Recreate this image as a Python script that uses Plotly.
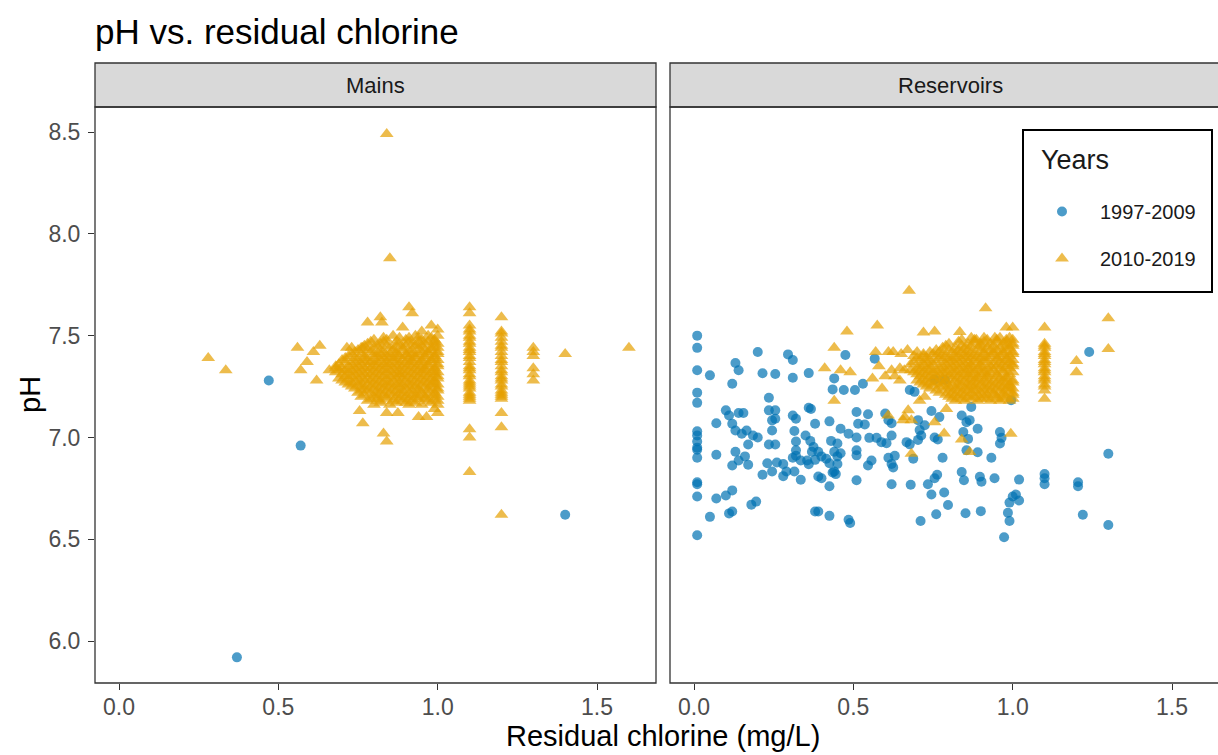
import plotly.graph_objects as go

W, H = 1218, 755

# ---------------- data ----------------
# Mains, 1997-2009
mains_1997_x = [0.47, 0.57, 0.37, 1.40]
mains_1997_y = [7.28, 6.96, 5.92, 6.62]

# Mains, 2010-2019 : isolated points
mains_2010_pts = [
    (0.28, 7.39), (0.335, 7.33), (0.84, 8.49), (0.85, 7.88), (1.60, 7.44), (1.40, 7.41),
    (0.56, 7.44), (0.63, 7.45), (0.61, 7.42), (0.59, 7.37), (0.57, 7.33), (0.62, 7.28),
    (0.66, 7.33), (0.68, 7.34), (0.715, 7.44), (0.73, 7.44), (0.765, 7.44),
    (0.78, 7.565), (0.82, 7.59), (0.825, 7.565), (0.91, 7.64), (0.92, 7.61), (0.89, 7.54),
    (1.00, 7.53), (0.95, 7.52), (0.98, 7.55),
    (0.755, 7.13), (0.765, 7.07), (0.83, 7.02), (0.84, 6.98), (0.84, 7.12), (0.875, 7.12),
    (0.94, 7.10), (0.965, 7.10), (1.00, 7.12), (0.99, 7.14),
]
# Mains, 2010-2019 : dense cluster, pH value -> chlorine values
mains_2010_rows = {
    7.50: [0.86, 0.93, 0.97, 1.00],
    7.49: [0.83, 0.88, 0.91, 0.94, 0.98],
    7.48: [0.80, 0.84, 0.90, 0.95, 0.99],
    7.47: [0.79, 0.83, 0.87, 0.91, 0.94, 0.97, 0.99],
    7.46: [0.78, 0.82, 0.88, 0.92, 0.96, 1.00],
    7.45: [0.77, 0.81, 0.84, 0.87, 0.90, 0.93, 0.95, 0.99],
    7.44: [0.76, 0.80, 0.85, 0.89, 0.94, 0.98, 1.00],
    7.43: [0.75, 0.78, 0.82, 0.86, 0.89, 0.92, 0.96, 0.98],
    7.42: [0.74, 0.79, 0.83, 0.87, 0.91, 0.95, 0.97, 1.00],
    7.41: [0.73, 0.76, 0.80, 0.82, 0.85, 0.87, 0.90, 0.92, 0.94, 0.97, 1.00],
    7.40: [0.72, 0.77, 0.81, 0.84, 0.88, 0.90, 0.93, 0.96, 0.99],
    7.39: [0.71, 0.74, 0.77, 0.80, 0.83, 0.85, 0.87, 0.91, 0.93, 0.96, 0.99],
    7.38: [0.70, 0.75, 0.78, 0.82, 0.86, 0.89, 0.92, 0.95, 0.98, 1.00],
    7.37: [0.71, 0.74, 0.77, 0.79, 0.81, 0.84, 0.87, 0.90, 0.92, 0.95, 0.98],
    7.36: [0.69, 0.73, 0.76, 0.80, 0.83, 0.85, 0.88, 0.91, 0.94, 0.97, 1.00],
    7.35: [0.68, 0.72, 0.75, 0.78, 0.81, 0.84, 0.87, 0.89, 0.92, 0.95, 0.97, 1.00],
    7.34: [0.70, 0.74, 0.77, 0.79, 0.82, 0.86, 0.90, 0.93, 0.96, 0.99],
    7.33: [0.69, 0.71, 0.73, 0.76, 0.80, 0.83, 0.85, 0.88, 0.91, 0.94, 0.96, 0.99],
    7.32: [0.68, 0.72, 0.75, 0.78, 0.81, 0.84, 0.87, 0.89, 0.92, 0.95, 0.98, 1.00],
    7.31: [0.70, 0.74, 0.77, 0.79, 0.82, 0.86, 0.88, 0.90, 0.93, 0.96, 0.99],
    7.30: [0.71, 0.73, 0.76, 0.80, 0.83, 0.85, 0.88, 0.91, 0.94, 0.97, 1.00],
    7.29: [0.69, 0.72, 0.75, 0.78, 0.81, 0.84, 0.87, 0.89, 0.92, 0.95, 0.98, 1.00],
    7.28: [0.70, 0.74, 0.77, 0.79, 0.82, 0.86, 0.90, 0.93, 0.96, 0.99],
    7.27: [0.71, 0.73, 0.76, 0.80, 0.83, 0.85, 0.88, 0.91, 0.94, 0.97, 0.99],
    7.26: [0.72, 0.75, 0.78, 0.81, 0.84, 0.87, 0.89, 0.92, 0.95, 0.98, 1.00],
    7.25: [0.73, 0.76, 0.79, 0.82, 0.85, 0.88, 0.91, 0.93, 0.96, 0.99],
    7.24: [0.74, 0.77, 0.80, 0.83, 0.86, 0.90, 0.94, 0.97, 1.00],
    7.23: [0.76, 0.78, 0.81, 0.84, 0.87, 0.89, 0.92, 0.94, 0.97, 1.00],
    7.22: [0.75, 0.79, 0.82, 0.85, 0.88, 0.91, 0.95, 0.99],
    7.21: [0.77, 0.81, 0.83, 0.86, 0.89, 0.92, 0.94, 0.97, 0.99],
    7.20: [0.76, 0.80, 0.84, 0.87, 0.90, 0.93, 0.96, 1.00],
    7.19: [0.79, 0.81, 0.84, 0.88, 0.91, 0.94, 0.96, 0.99],
    7.18: [0.78, 0.82, 0.86, 0.89, 0.92, 0.97, 1.00],
    7.17: [0.82, 0.87, 0.90, 0.93, 0.98],
    7.16: [0.80, 0.85, 0.91, 0.95, 1.00],
}
# Mains, 2010-2019 : chlorine value -> pH values (vertical stacks)
mains_2010_cols = {
    1.10: [7.64, 7.61, 7.55, 7.53, 7.52, 7.50, 7.49, 7.47, 7.46, 7.44, 7.43, 7.42, 7.40,
           7.39, 7.37, 7.35, 7.34, 7.33, 7.31, 7.30, 7.28, 7.27, 7.26, 7.25, 7.24, 7.22,
           7.21, 7.20, 7.19, 7.18, 7.04, 7.00, 6.83],
    1.20: [7.59, 7.52, 7.51, 7.49, 7.47, 7.45, 7.44, 7.42, 7.40, 7.38, 7.37, 7.35, 7.33,
           7.32, 7.30, 7.29, 7.28, 7.26, 7.25, 7.23, 7.22, 7.21, 7.20, 7.19, 7.12, 7.05, 6.62],
    1.30: [7.44, 7.42, 7.40, 7.34, 7.31, 7.28],
}

# Reservoirs, 1997-2009
res_1997_pts = [
    (0.01, 7.50), (0.01, 7.44), (0.01, 7.33), (0.01, 7.22), (0.01, 7.17), (0.01, 7.03),
    (0.01, 7.01), (0.01, 6.98), (0.01, 6.95), (0.01, 6.94), (0.01, 6.90), (0.01, 6.78),
    (0.01, 6.77), (0.01, 6.71), (0.01, 6.52),
    (0.05, 7.305), (0.07, 7.07), (0.07, 6.915), (0.07, 6.70), (0.05, 6.61), (0.10, 6.715),
    (0.12, 6.74), (0.11, 6.627), (0.12, 6.636), (0.12, 7.264), (0.13, 7.366), (0.14, 7.33),
    (0.10, 7.133), (0.11, 7.108), (0.14, 7.12), (0.155, 7.12), (0.12, 7.067), (0.13, 7.034),
    (0.15, 7.018), (0.165, 7.034), (0.17, 6.965), (0.185, 7.01), (0.20, 7.00), (0.13, 6.93),
    (0.16, 6.907), (0.14, 6.887), (0.12, 6.862), (0.17, 6.866), (0.18, 6.67), (0.195, 6.685),
    (0.20, 7.42), (0.215, 7.315), (0.235, 7.195), (0.235, 7.133), (0.255, 7.133),
    (0.245, 7.084), (0.255, 7.092), (0.245, 7.034), (0.235, 6.965), (0.255, 6.965),
    (0.23, 6.873), (0.215, 6.817), (0.245, 6.833), (0.26, 6.877), (0.28, 6.869), (0.29, 6.833),
    (0.28, 6.81), (0.255, 7.312), (0.295, 7.408), (0.31, 7.38), (0.31, 7.293), (0.31, 7.108),
    (0.32, 7.092), (0.315, 7.032), (0.32, 6.98), (0.32, 6.937), (0.31, 6.90), (0.32, 6.91),
    (0.315, 6.833), (0.335, 6.792), (0.35, 7.01), (0.365, 6.983), (0.36, 7.146), (0.367, 7.14),
    (0.36, 7.316), (0.38, 7.067), (0.375, 6.953), (0.37, 6.93), (0.355, 6.887), (0.335, 6.887),
    (0.36, 6.868), (0.38, 6.89), (0.39, 6.93), (0.40, 6.907), (0.39, 6.808), (0.40, 6.80),
    (0.38, 6.636), (0.39, 6.636), (0.425, 6.76), (0.425, 6.615), (0.415, 6.895), (0.425, 6.873),
    (0.435, 6.828), (0.44, 6.93), (0.45, 6.907), (0.46, 6.922), (0.45, 6.87), (0.43, 6.983),
    (0.45, 6.97), (0.425, 7.079), (0.46, 7.043), (0.485, 7.018), (0.51, 7.00), (0.44, 6.833),
    (0.445, 6.82), (0.44, 7.29), (0.435, 7.236), (0.47, 7.233), (0.475, 7.405), (0.505, 7.233),
    (0.51, 7.125), (0.515, 7.067), (0.51, 6.937), (0.51, 6.912), (0.51, 6.79), (0.485, 6.596),
    (0.49, 6.58),
    (0.53, 7.264), (0.567, 7.387), (0.546, 7.114), (0.536, 7.064), (0.55, 6.998), (0.573, 6.998),
    (0.588, 6.977), (0.604, 6.972), (0.60, 7.118), (0.61, 7.085), (0.62, 7.07), (0.62, 7.01),
    (0.557, 6.887), (0.546, 6.862), (0.61, 6.90), (0.63, 6.91), (0.62, 6.87), (0.625, 6.853),
    (0.62, 6.77), (0.68, 6.768), (0.667, 6.977), (0.677, 6.966), (0.688, 6.895), (0.703, 7.085),
    (0.708, 7.036), (0.724, 7.06), (0.713, 7.01), (0.703, 6.988), (0.677, 7.233), (0.692, 7.224),
    (0.745, 7.13), (0.77, 7.10), (0.755, 7.00), (0.765, 6.99), (0.78, 6.90), (0.734, 6.77),
    (0.755, 6.80), (0.763, 6.817), (0.745, 6.72), (0.785, 6.73), (0.797, 6.668), (0.76, 6.623),
    (0.711, 6.59), (0.787, 7.283), (0.755, 7.285), (0.84, 7.108), (0.855, 7.075), (0.865, 7.085),
    (0.87, 7.15), (0.845, 7.027), (0.86, 6.993), (0.855, 6.937), (0.89, 7.043), (0.89, 6.927),
    (0.933, 6.90), (0.84, 6.83), (0.847, 6.79), (0.897, 6.807), (0.902, 6.783), (0.943, 6.80),
    (0.852, 6.628), (0.90, 6.638), (0.96, 7.027), (0.965, 6.998), (0.96, 6.97), (0.995, 7.183),
    (1.02, 6.793), (1.00, 6.71), (1.01, 6.72), (1.02, 6.69), (0.99, 6.68), (0.985, 6.63),
    (0.99, 6.59), (0.973, 6.51),
    (1.24, 7.42), (1.30, 6.92), (1.10, 6.82), (1.10, 6.80), (1.10, 6.77), (1.205, 6.78),
    (1.205, 6.76), (1.22, 6.62), (1.30, 6.57),
]

# Reservoirs, 2010-2019 : isolated points
res_2010_pts = [
    (0.57, 7.42), (0.61, 7.42), (0.625, 7.42), (0.65, 7.41), (0.67, 7.43), (0.58, 7.35),
    (0.60, 7.30), (0.63, 7.30), (0.646, 7.28), (0.56, 7.29), (0.59, 7.24), (0.62, 7.33),
    (0.646, 7.34), (0.66, 7.33), (0.708, 7.18), (0.724, 7.20), (0.44, 7.44), (0.48, 7.52),
    (0.575, 7.55), (0.41, 7.34), (0.46, 7.33), (0.49, 7.32), (0.44, 7.18), (0.675, 7.72),
    (0.915, 7.635), (0.72, 7.515), (0.755, 7.52), (0.834, 7.518), (0.886, 7.48), (0.98, 7.54),
    (1.00, 7.54), (0.944, 7.49), (0.609, 7.108), (0.661, 7.10), (0.672, 7.133), (0.682, 7.084),
    (0.656, 7.084), (0.755, 7.075), (0.785, 7.02), (0.84, 6.99), (0.865, 6.928), (0.994, 7.018),
    (0.682, 6.92), (0.792, 7.14),
    (1.20, 7.375), (1.20, 7.32), (1.30, 7.585), (1.30, 7.435),
]
res_2010_rows = {
    7.49: [0.87, 0.91, 0.96, 0.99],
    7.48: [0.84, 0.88, 0.92, 0.95, 0.98, 1.00],
    7.47: [0.83, 0.88, 0.91, 0.95, 0.98],
    7.46: [0.80, 0.86, 0.90, 0.93, 0.97, 1.00],
    7.45: [0.79, 0.84, 0.87, 0.90, 0.94, 0.98, 1.00],
    7.44: [0.78, 0.82, 0.85, 0.89, 0.92, 0.96, 0.99],
    7.43: [0.76, 0.80, 0.83, 0.86, 0.90, 0.93, 0.95, 0.98],
    7.42: [0.70, 0.74, 0.77, 0.81, 0.84, 0.87, 0.91, 0.94, 0.97, 1.00],
    7.41: [0.72, 0.75, 0.78, 0.82, 0.85, 0.88, 0.91, 0.94, 0.97, 1.00],
    7.40: [0.69, 0.72, 0.76, 0.79, 0.83, 0.86, 0.89, 0.93, 0.96, 0.99],
    7.39: [0.70, 0.73, 0.77, 0.80, 0.82, 0.85, 0.87, 0.90, 0.92, 0.95, 0.98],
    7.38: [0.71, 0.74, 0.78, 0.81, 0.84, 0.88, 0.91, 0.95, 0.98, 1.00],
    7.37: [0.69, 0.73, 0.76, 0.80, 0.83, 0.86, 0.89, 0.92, 0.96, 0.99],
    7.36: [0.68, 0.72, 0.75, 0.79, 0.82, 0.85, 0.87, 0.90, 0.94, 0.97, 1.00],
    7.35: [0.71, 0.74, 0.78, 0.81, 0.84, 0.87, 0.90, 0.93, 0.95, 0.98, 1.00],
    7.34: [0.70, 0.73, 0.77, 0.80, 0.83, 0.86, 0.89, 0.92, 0.96, 0.99],
    7.33: [0.68, 0.71, 0.74, 0.76, 0.79, 0.82, 0.85, 0.87, 0.90, 0.94, 0.97],
    7.32: [0.69, 0.72, 0.75, 0.78, 0.81, 0.84, 0.88, 0.91, 0.93, 0.97, 1.00],
    7.31: [0.70, 0.73, 0.77, 0.79, 0.82, 0.85, 0.87, 0.90, 0.92, 0.95, 0.99],
    7.30: [0.71, 0.74, 0.76, 0.80, 0.83, 0.86, 0.89, 0.92, 0.95, 0.98],
    7.29: [0.72, 0.75, 0.78, 0.81, 0.84, 0.87, 0.89, 0.92, 0.96, 0.98],
    7.28: [0.70, 0.73, 0.77, 0.79, 0.82, 0.85, 0.88, 0.91, 0.94, 0.97, 1.00],
    7.27: [0.71, 0.74, 0.76, 0.79, 0.83, 0.86, 0.89, 0.92, 0.95, 0.98, 1.00],
    7.26: [0.72, 0.75, 0.78, 0.81, 0.84, 0.87, 0.90, 0.93, 0.96, 0.99],
    7.25: [0.73, 0.77, 0.80, 0.83, 0.86, 0.88, 0.91, 0.94, 0.97, 0.99],
    7.24: [0.74, 0.79, 0.82, 0.85, 0.89, 0.92, 0.95, 0.98, 1.00],
    7.23: [0.76, 0.80, 0.83, 0.86, 0.88, 0.91, 0.93, 0.96, 0.99],
    7.22: [0.77, 0.81, 0.84, 0.87, 0.90, 0.94, 0.97, 1.00],
    7.21: [0.79, 0.82, 0.85, 0.89, 0.92, 0.94, 0.97, 1.00],
    7.20: [0.80, 0.83, 0.86, 0.88, 0.91, 0.95, 0.98],
    7.19: [0.81, 0.84, 0.87, 0.90, 0.92, 0.95, 0.97, 1.00],
    7.18: [0.82, 0.85, 0.89, 0.93, 0.96, 0.99],
}
res_2010_cols = {
    1.10: [7.54, 7.46, 7.45, 7.44, 7.42, 7.41, 7.40, 7.38, 7.37, 7.36, 7.34, 7.33, 7.32,
           7.30, 7.29, 7.28, 7.26, 7.25, 7.23, 7.19],
}

x_ticks = [0.0, 0.5, 1.0, 1.5]
y_ticks = [6.0, 6.5, 7.0, 7.5, 8.0, 8.5]
facets = ["Mains", "Reservoirs"]
groups = ["1997-2009", "2010-2019"]


def build(points, rows, cols):
    xs = [p[0] for p in points]
    ys = [p[1] for p in points]
    for yv, xlist in rows.items():
        xs += xlist
        ys += [yv] * len(xlist)
    for xv, ylist in cols.items():
        xs += [xv] * len(ylist)
        ys += ylist
    return xs, ys


mains_2010_x, mains_2010_y = build(mains_2010_pts, mains_2010_rows, mains_2010_cols)
res_1997_x, res_1997_y = build(res_1997_pts, {}, {})
res_2010_x, res_2010_y = build(res_2010_pts, res_2010_rows, res_2010_cols)

# ---------------- styling ----------------
FONT = "Liberation Sans, Arial, sans-serif"
BLUE = "#0072B2"
ORANGE = "#E69F00"
DARK = "#333333"


def px_x(p):
    return p / W


def px_y(p):
    return 1 - p / H


P_TOP, P_BOT = 107, 683
L1, R1 = 95, 656
L2, R2 = 670, 1231
STRIP_TOP = 63
UNIT = 318.7  # px per mg/L
x_lo = -0.0753
x_hi1 = x_lo + (R1 - L1) / UNIT
x_hi2 = x_lo + (W - L2) / UNIT

fig = go.Figure()

blue_marker = dict(color=BLUE, symbol="circle", size=10, opacity=0.7, line=dict(width=0))
orange_marker = dict(color=ORANGE, symbol="triangle-up", size=12, opacity=0.7, line=dict(width=0))

fig.add_trace(go.Scatter(x=mains_1997_x, y=mains_1997_y, mode="markers", marker=blue_marker,
                         name=groups[0], legendgroup="a", showlegend=True, xaxis="x", yaxis="y"))
fig.add_trace(go.Scatter(x=mains_2010_x, y=mains_2010_y, mode="markers", marker=orange_marker,
                         name=groups[1], legendgroup="b", showlegend=True, xaxis="x", yaxis="y"))
fig.add_trace(go.Scatter(x=res_1997_x, y=res_1997_y, mode="markers", marker=blue_marker,
                         name=groups[0], legendgroup="a", showlegend=False, xaxis="x2", yaxis="y2"))
fig.add_trace(go.Scatter(x=res_2010_x, y=res_2010_y, mode="markers", marker=orange_marker,
                         name=groups[1], legendgroup="b", showlegend=False, xaxis="x2", yaxis="y2"))

axis_common = dict(showgrid=False, zeroline=False, showline=False, ticks="outside",
                   ticklen=6, tickwidth=1.3, tickcolor=DARK,
                   tickfont=dict(family=FONT, size=23, color="#4D4D4D"))

y_dom = [px_y(P_BOT), px_y(P_TOP)]
y_range = [5.794, 8.623]

fig.update_layout(
    width=W, height=H,
    margin=dict(l=0, r=0, t=0, b=0),
    paper_bgcolor="white", plot_bgcolor="white",
    font=dict(family=FONT),
    xaxis=dict(domain=[px_x(L1), px_x(R1)], range=[x_lo, x_hi1], tickvals=x_ticks,
               tickformat=".1f", anchor="y", ticklabelstandoff=-3, **axis_common),
    xaxis2=dict(domain=[px_x(L2), 1.0], range=[x_lo, x_hi2], tickvals=x_ticks,
                tickformat=".1f", anchor="y2", ticklabelstandoff=-3, **axis_common),
    yaxis=dict(domain=y_dom, range=y_range, tickvals=y_ticks, tickformat=".1f",
               anchor="x", ticklabelstandoff=3, **axis_common),
    yaxis2=dict(domain=y_dom, range=y_range, anchor="x2", showgrid=False, zeroline=False,
                showline=False, showticklabels=False, ticks=""),
    showlegend=True,
    legend=dict(x=px_x(1024), y=px_y(192), xanchor="left", yanchor="top",
                borderwidth=0, bgcolor="rgba(0,0,0,0)",
                font=dict(family=FONT, size=20, color="#1a1a1a"),
                traceorder="grouped", tracegroupgap=18, itemwidth=66),
)

shapes = []
for (l, r) in [(L1, R1), (L2, R2)]:
    # strip
    shapes.append(dict(type="rect", xref="paper", yref="paper",
                       x0=px_x(l), x1=px_x(r), y0=px_y(P_TOP), y1=px_y(STRIP_TOP),
                       fillcolor="#D9D9D9", line=dict(color=DARK, width=1.3), layer="above"))
    # panel border
    shapes.append(dict(type="rect", xref="paper", yref="paper",
                       x0=px_x(l), x1=px_x(r), y0=px_y(P_BOT), y1=px_y(P_TOP),
                       fillcolor="rgba(0,0,0,0)", line=dict(color=DARK, width=1.3), layer="above"))
# legend box
shapes.append(dict(type="rect", xref="paper", yref="paper",
                   x0=px_x(1023), x1=px_x(1212), y0=px_y(292), y1=px_y(130),
                   fillcolor="white", line=dict(color="black", width=2), layer="above"))
fig.update_layout(shapes=shapes)

annotations = [
    dict(text="pH vs. residual chlorine", x=px_x(93), y=px_y(31), xref="paper", yref="paper",
         xanchor="left", yanchor="middle", showarrow=False,
         font=dict(family=FONT, size=35, color="black")),
    dict(text=facets[0], x=px_x((L1 + R1) / 2), y=px_y(86), xref="paper", yref="paper",
         xanchor="center", yanchor="middle", showarrow=False,
         font=dict(family=FONT, size=22, color="#1a1a1a")),
    dict(text=facets[1], x=px_x((L2 + R2) / 2), y=px_y(86), xref="paper", yref="paper",
         xanchor="center", yanchor="middle", showarrow=False,
         font=dict(family=FONT, size=22, color="#1a1a1a")),
    dict(text="Residual chlorine (mg/L)", x=px_x((L1 + R2) / 2), y=px_y(736), xref="paper",
         yref="paper", xanchor="center", yanchor="middle", showarrow=False,
         font=dict(family=FONT, size=29, color="black")),
    dict(text="pH", x=px_x(30), y=px_y((P_TOP + P_BOT) / 2), xref="paper", yref="paper",
         xanchor="center", yanchor="middle", showarrow=False, textangle=-90,
         font=dict(family=FONT, size=29, color="black")),
    dict(text="Years", x=px_x(1039), y=px_y(160), xref="paper", yref="paper",
         xanchor="left", yanchor="middle", showarrow=False,
         font=dict(family=FONT, size=27, color="#1a1a1a")),
]
fig.update_layout(annotations=annotations)

fig.write_html("out.html")
